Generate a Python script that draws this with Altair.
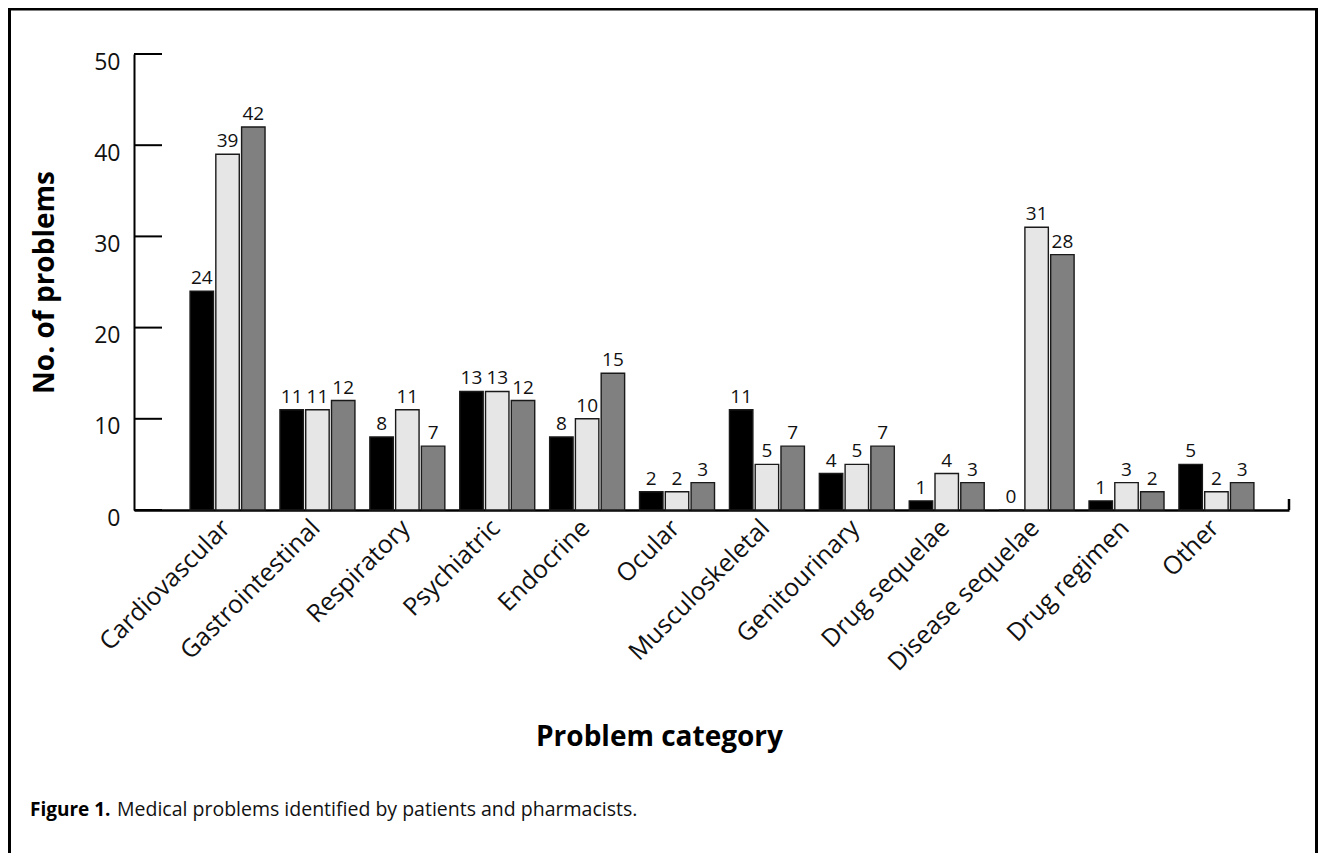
import altair as alt
import pandas as pd

categories = ["Cardiovascular", "Gastrointestinal", "Respiratory", "Psychiatric",
              "Endocrine", "Ocular", "Musculoskeletal", "Genitourinary",
              "Drug sequelae", "Disease sequelae", "Drug regimen", "Other"]
series_names = ["Series 1", "Series 2", "Series 3"]
series_1 = [24, 11, 8, 13, 8, 2, 11, 4, 1, 0, 1, 5]
series_2 = [39, 11, 11, 13, 10, 2, 5, 5, 4, 31, 3, 2]
series_3 = [42, 12, 7, 12, 15, 3, 7, 7, 3, 28, 2, 3]
series_colors = ["#000000", "#e6e6e6", "#808080"]
y_ticks = [0, 10, 20, 30, 40, 50]
x_title = "Problem category"
y_title = "No. of problems"
caption_bold = "Figure 1."
caption_text = "Medical problems identified by patients and pharmacists."

rows = []
for i, c in enumerate(categories):
    for name, vals in zip(series_names, [series_1, series_2, series_3]):
        rows.append({"category": c, "series": name, "value": vals[i]})
df = pd.DataFrame(rows)
tick_df = pd.DataFrame({"value": y_ticks})
one = pd.DataFrame({"d": [0]})

W, H = 1155, 456
FONT = "Open Sans"

x_enc = alt.X(
    "category:N", sort=categories,
    scale=alt.Scale(paddingInner=0.166, paddingOuter=0.507, align=0.615),
    axis=alt.Axis(title=x_title, labelAngle=-45, labelAlign="right", labelBaseline="top",
                  labelFontSize=25, labelPadding=5, labelOffset=-10, labelLimit=0,
                  ticks=False, domainWidth=2.5,
                  domainColor="black", labelColor="#111111", titleColor="black",
                  titleFontSize=28, titleFontWeight="bold", titleX=525, titleY=227,
                  titleAlign="center", titleBaseline="middle", labelFont=FONT, titleFont=FONT),
)
xoff = alt.XOffset("series:N", sort=series_names,
                   scale=alt.Scale(paddingInner=0.09, paddingOuter=0))
y_enc = alt.Y(
    "value:Q", scale=alt.Scale(domain=[0, 50], nice=False),
    axis=alt.Axis(values=y_ticks, title=y_title, grid=False, ticks=False, domainWidth=2,
                  domainColor="black", labelColor="#111111", titleColor="black",
                  labelFontSize=23, labelPadding=14, labelOffset=8, labelFlush=False,
                  titleFontSize=28, titleFontWeight="bold", titleAngle=270,
                  titleX=-89, titleY=228, titleAlign="center", titleBaseline="middle",
                  labelFont=FONT, titleFont=FONT),
)
color_enc = alt.Color("series:N", sort=series_names,
                      scale=alt.Scale(domain=series_names, range=series_colors), legend=None)

bars = alt.Chart(df).mark_bar(stroke="#1a1a1a", strokeWidth=1.4).encode(
    x=x_enc, xOffset=xoff, y=y_enc, color=color_enc)
labels = alt.Chart(df).mark_text(baseline="bottom", dy=-3, fontSize=19, font=FONT,
                                 color="#111111").encode(
    x=x_enc, xOffset=xoff, y=y_enc, text="value:Q")
yticks = alt.Chart(tick_df).mark_rule(color="black", strokeWidth=2).encode(
    y=y_enc, x=alt.value(0), x2=alt.value(28))
end_tick = alt.Chart(one).mark_rule(color="black", strokeWidth=2.5).encode(
    x=alt.value(W), y=alt.value(H - 11), y2=alt.value(H))
frame_top = alt.Chart(one).mark_rule(color="black", strokeWidth=3).encode(
    x=alt.value(-126), x2=alt.value(1184), y=alt.value(-45))
frame_left = alt.Chart(one).mark_rule(color="black", strokeWidth=3).encode(
    x=alt.value(-124.5), y=alt.value(-46), y2=alt.value(830))
frame_right = alt.Chart(one).mark_rule(color="black", strokeWidth=3).encode(
    x=alt.value(1182.5), y=alt.value(-46), y2=alt.value(830))
cap1 = alt.Chart(one).mark_text(align="left", baseline="middle", fontSize=19,
                                fontWeight="bold", font=FONT, color="black").encode(
    x=alt.value(-104), y=alt.value(756), text=alt.value(caption_bold))
cap2 = alt.Chart(one).mark_text(align="left", baseline="middle", fontSize=19.5,
                                font=FONT, color="#111111").encode(
    x=alt.value(-17), y=alt.value(756), text=alt.value(caption_text))

chart = alt.layer(bars, labels, yticks, end_tick, frame_top, frame_left, frame_right,
                  cap1, cap2).properties(
    width=W, height=H,
    padding={"left": 126, "top": 46, "right": 29, "bottom": 343},
    autosize=alt.AutoSizeParams(type="none"),
).configure(font=FONT, view=alt.ViewConfig(stroke=None))

chart.save("out.html", embed_options={"renderer": "svg", "actions": False})
